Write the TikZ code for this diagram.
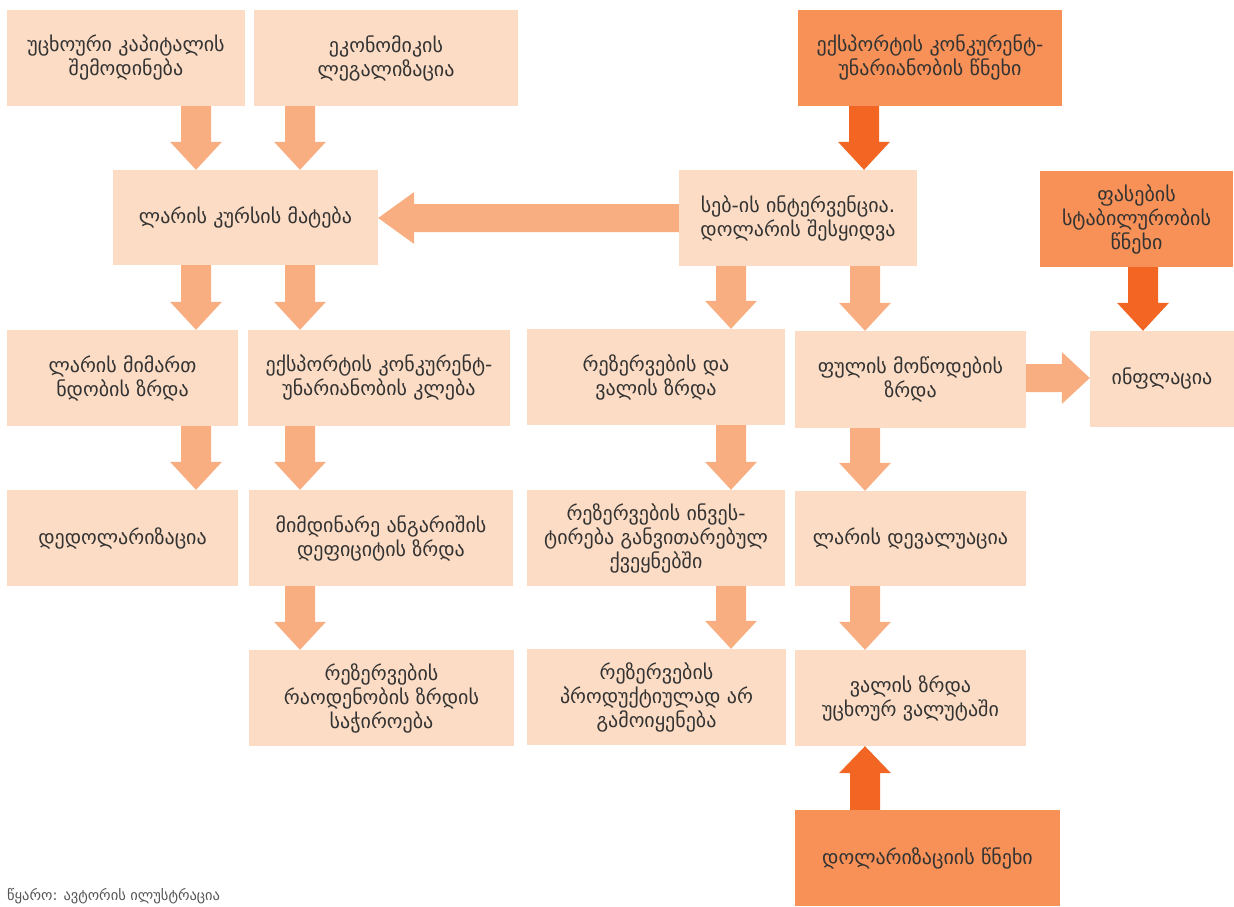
\documentclass[tikz,border=0pt]{standalone}
\usepackage{fontspec}
\setmainfont{DejaVu Sans}
\usetikzlibrary{calc}
\definecolor{boxL}{HTML}{FCDCC4}
\definecolor{boxD}{HTML}{F79157}
\definecolor{arrL}{HTML}{F9AE82}
\definecolor{arrD}{HTML}{F26522}
\definecolor{txt}{HTML}{333333}
\definecolor{srcgray}{HTML}{555555}
% block arrows: #1 colour, #2 start, #3 tip
\newcommand\arrdown[3]{\fill[#1] let \p1=(#2), \p2=(#3) in
 ({\x1-15pt},\y1) -- ({\x1+15pt},\y1) -- ({\x1+15pt},{\y2+28pt}) -- ({\x1+26pt},{\y2+28pt}) -- (\x1,\y2) -- ({\x1-26pt},{\y2+28pt}) -- ({\x1-15pt},{\y2+28pt}) -- cycle;}
\newcommand\arrup[3]{\fill[#1] let \p1=(#2), \p2=(#3) in
 ({\x1-15pt},\y1) -- ({\x1+15pt},\y1) -- ({\x1+15pt},{\y2-27pt}) -- ({\x1+26pt},{\y2-27pt}) -- (\x1,\y2) -- ({\x1-26pt},{\y2-27pt}) -- ({\x1-15pt},{\y2-27pt}) -- cycle;}
\newcommand\arrleft[3]{\fill[#1] let \p1=(#2), \p2=(#3) in
 (\x1,{\y1+14pt}) -- (\x1,{\y1-14pt}) -- ({\x2+36pt},{\y1-14pt}) -- ({\x2+36pt},{\y1-26pt}) -- (\x2,\y1) -- ({\x2+36pt},{\y1+26pt}) -- ({\x2+36pt},{\y1+14pt}) -- cycle;}
\newcommand\arrright[3]{\fill[#1] let \p1=(#2), \p2=(#3) in
 (\x1,{\y1+14pt}) -- (\x1,{\y1-14pt}) -- ({\x2-28pt},{\y1-14pt}) -- ({\x2-28pt},{\y1-26pt}) -- (\x2,\y1) -- ({\x2-28pt},{\y1+26pt}) -- ({\x2-28pt},{\y1+14pt}) -- cycle;}
\begin{document}
\begin{tikzpicture}[x=1pt,y=-1pt,
  box/.style={fill=boxL, text=txt, align=center, inner sep=0pt,
    font=\fontsize{20}{24}\selectfont, minimum height=96pt},
  dbox/.style={box, fill=boxD}]
\useasboundingbox (0,0) rectangle (1234,907);
% columns of arrows
\coordinate (cA) at (196,0);
\coordinate (cB) at (300,0);
\coordinate (cC) at (864,0);
\coordinate (cD) at (731,0);
\coordinate (cE) at (865,0);
\coordinate (cF) at (1143,0);
\coordinate (rH) at (0,378);
% row 1
\node[box, minimum width=238pt] (b1) at (126,58) {უცხოური კაპიტალის\\შემოდინება};
\node[box, minimum width=264pt] (b2) at (386,58) {ეკონომიკის\\ლეგალიზაცია};
\node[dbox, minimum width=264pt] (b3) at (930,58) {ექსპორტის კონკურენტ-\\უნარიანობის წნეხი};
% row 2
\node[box, minimum width=265pt, minimum height=95pt] (b4) at (245.5,217.5) {ლარის კურსის მატება};
\node[box, minimum width=238pt] (b5) at (798,218) {სებ-ის ინტერვენცია.\\დოლარის შესყიდვა};
\node[dbox, minimum width=193pt] (b6) at (1136.5,219) {ფასების\\სტაბილურობის\\წნეხი};
% row 3
\node[box, minimum width=231pt] (b7) at (122.5,378) {ლარის მიმართ\\ნდობის ზრდა};
\node[box, minimum width=262pt] (b8) at (379,378) {ექსპორტის კონკურენტ-\\უნარიანობის კლება};
\node[box, minimum width=258pt] (b9) at (656,377) {რეზერვების და\\ვალის ზრდა};
\node[box, minimum width=231pt, minimum height=97pt] (b10) at (910.5,379.5) {ფულის მოწოდების\\ზრდა};
\node[box, minimum width=144pt] (b11) at (1162,379) {ინფლაცია};
% row 4
\node[box, minimum width=231pt] (b12) at (122.5,538) {დედოლარიზაცია};
\node[box, minimum width=264pt] (b13) at (381,538) {მიმდინარე ანგარიშის\\დეფიციტის ზრდა};
\node[box, minimum width=258pt] (b14) at (656,538) {რეზერვების ინვეს-\\ტირება განვითარებულ\\ქვეყნებში};
\node[box, minimum width=231pt, minimum height=95pt] (b15) at (910.5,538.5) {ლარის დევალუაცია};
% row 5
\node[box, minimum width=265pt] (b16) at (381.5,698) {რეზერვების\\რაოდენობის ზრდის\\საჭიროება};
\node[box, minimum width=259pt] (b17) at (656.5,697) {რეზერვების\\პროდუქტიულად არ\\გამოიყენება};
\node[box, minimum width=231pt] (b18) at (910.5,698) {ვალის ზრდა\\უცხოურ ვალუტაში};
% row 6
\node[dbox, minimum width=265pt] (b19) at (927.5,858) {დოლარიზაციის წნეხი};
% source
\node[anchor=base west, inner sep=0pt, text=srcgray, font=\fontsize{14.5}{16}\selectfont] (src) at (7,900) {წყარო: ავტორის ილუსტრაცია};
% arrows
\arrdown{arrL}{b1.south -| cA}{b4.north -| cA}
\arrdown{arrL}{b2.south -| cB}{b4.north -| cB}
\arrdown{arrD}{b3.south -| cC}{b5.north -| cC}
\arrleft{arrL}{b5.west}{b4.east}
\arrdown{arrL}{b4.south -| cA}{b7.north -| cA}
\arrdown{arrL}{b4.south -| cB}{b8.north -| cB}
\arrdown{arrL}{b5.south -| cD}{b9.north -| cD}
\arrdown{arrL}{b5.south -| cE}{b10.north -| cE}
\arrdown{arrD}{b6.south -| cF}{b11.north -| cF}
\arrright{arrL}{b10.east |- rH}{b11.west |- rH}
\arrdown{arrL}{b7.south -| cA}{b12.north -| cA}
\arrdown{arrL}{b8.south -| cB}{b13.north -| cB}
\arrdown{arrL}{b9.south -| cD}{b14.north -| cD}
\arrdown{arrL}{b10.south -| cE}{b15.north -| cE}
\arrdown{arrL}{b13.south -| cB}{b16.north -| cB}
\arrdown{arrL}{b14.south -| cD}{b17.north -| cD}
\arrdown{arrL}{b15.south -| cE}{b18.north -| cE}
\arrup{arrD}{b19.north -| cE}{b18.south -| cE}
\end{tikzpicture}
\end{document}
